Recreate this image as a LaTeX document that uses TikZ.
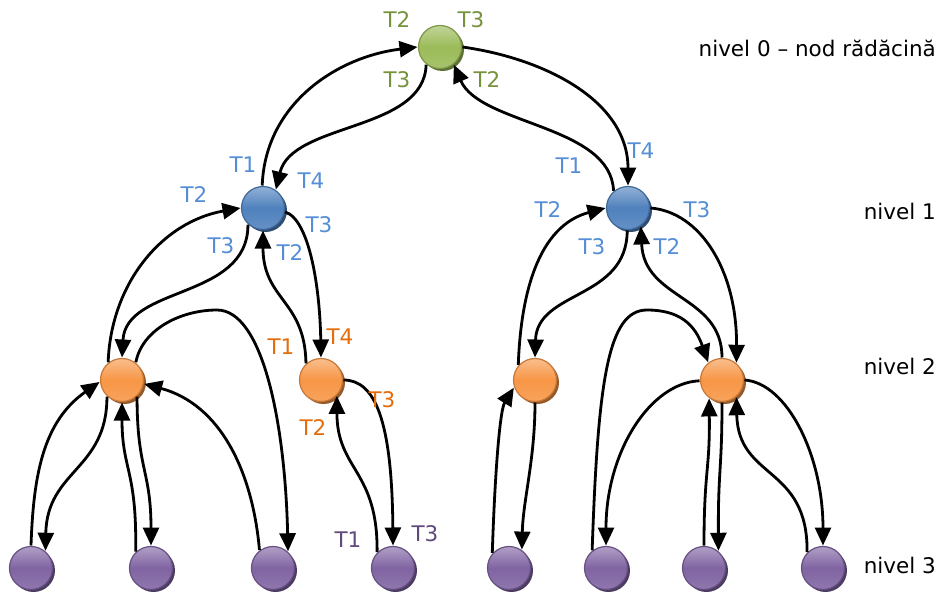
\documentclass[tikz,border=0pt]{standalone}
\usepackage{fontspec}
\setmainfont{DejaVu Sans}
\usepackage{tikz}
\usetikzlibrary{arrows.meta, shadows}

\definecolor{rootgreen}{HTML}{9BBB59}
\definecolor{midblue}{HTML}{4F81BD}
\definecolor{innerorange}{HTML}{F79646}
\definecolor{leafpurple}{HTML}{8064A2}
\definecolor{tgreen}{HTML}{76923C}
\definecolor{tblue}{HTML}{558ED5}
\definecolor{torange}{HTML}{E46C0A}
\definecolor{tpurple}{HTML}{604A7B}

\tikzset{
  ball/.style={circle, minimum size=43pt, inner sep=0pt, outer sep=1pt, line width=1.2pt,
    draw=#1!80!black, top color=#1!62!white, bottom color=#1!88!white, middle color=#1,
    general shadow={fill=#1!60!black, shadow xshift=2.5pt, shadow yshift=-2.5pt}},
  hop/.style={line width=2.8pt, -{Triangle[length=18pt,width=16pt]}},
  tnum/.style={text=#1, font=\fontsize{21.5}{25}\selectfont, inner sep=0pt},
  tierlabel/.style={font=\fontsize{21.5}{25}\selectfont, inner sep=0pt, anchor=base east},
}

\begin{document}
\begin{tikzpicture}[x=1pt, y=1pt]
  \useasboundingbox (0,0) rectangle (942,-594);

  % the tree
  \node[ball=rootgreen] (root) at (440,-47) {};
  \node[ball=midblue] (n1a) at (263,-208) {};
  \node[ball=midblue] (n1b) at (628,-208) {};
  \node[ball=innerorange] (n2a) at (122,-380) {};
  \node[ball=innerorange] (n2b) at (321,-380) {};
  \node[ball=innerorange] (n2c) at (535,-380) {};
  \node[ball=innerorange] (n2d) at (722,-380) {};
  \foreach \x [count=\i] in {31,151,273,393,509,606,704,823}
    \node[ball=leafpurple] (n3\i) at (\x,-568) {};

  % root <-> level 1
  \draw[hop] (n1a.92) to[out=88, in=187] (root.west);
  \draw[hop] (root.232) .. controls (424,-132) and (292,-122) .. (n1a.55);
  \draw[hop] (root.east) to[out=-8, in=90] (n1b.north);
  \draw[hop] (n1b.130) .. controls (611,-125) and (480,-125) .. (root.-52);

  % left subtree
  \draw[hop] (n2a.128) to[out=88, in=190] (n1a.west);
  \draw[hop] (n1a.228) .. controls (248,-300) and (126,-285) .. (n2a.north);
  \draw[hop] (n1a.-10) .. controls (310,-220) and (320,-290) .. (n2b.north);
  \draw[hop] (n2b.132) .. controls (305,-300) and (263,-300) .. (n1a.south);

  \draw[hop] (n31.north) to[out=88, in=215] (n2a.185);
  \draw[hop] (n2a.228) .. controls (107,-470) and (47,-470) .. (n31.50);
  \draw[hop] (n32.133) .. controls (137,-470) and (122,-470) .. (n2a.south);
  \draw[hop] (n2a.-48) .. controls (137,-470) and (151,-470) .. (n32.north);
  \draw[hop] (n2a.52) .. controls (142,-330) and (180,-310) .. (217,-310)
    .. controls (262,-310) and (285,-420) .. (n33.48);
  \draw[hop] (n33.127) to[out=95, in=-15] (n2a.-10);

  \draw[hop] (n2b.east) .. controls (375,-380) and (392,-420) .. (n34.north);
  \draw[hop] (n34.135) .. controls (378,-470) and (337,-470) .. (n2b.-45);

  % right subtree
  \draw[hop] (n2c.138) to[out=88, in=195] (n1b.west);
  \draw[hop] (n1b.-92) .. controls (627,-300) and (537,-290) .. (n2c.north);
  \draw[hop] (n2d.north) .. controls (722,-295) and (644,-300) .. (n1b.-55);
  \draw[hop] (n1b.east) .. controls (700,-212) and (737,-270) .. (n2d.50);

  \draw[hop] (n35.138) .. controls (495,-470) and (500,-410) .. (n2c.200);
  \draw[hop] (n2c.south) .. controls (535,-460) and (523,-500) .. (n35.55);

  \draw[hop] (n36.128) .. controls (598,-380) and (608,-310) .. (647,-310)
    .. controls (680,-310) and (695,-325) .. (n2d.128);
  \draw[hop] (n2d.182) .. controls (650,-383) and (606,-452) .. (n36.north);
  \draw[hop] (n37.north) .. controls (704,-470) and (710,-470) .. (n2d.235);
  \draw[hop] (n2d.south) .. controls (722,-470) and (718,-470) .. (n37.50);
  \draw[hop] (n38.135) .. controls (808,-465) and (738,-480) .. (n2d.-50);
  \draw[hop] (n2d.east) .. controls (787,-383) and (823,-455) .. (n38.north);

  % traversal numbers
  \node[tnum=tgreen] (t0a) at (397,-20) {T2};
  \node[tnum=tgreen] (t0b) at (471,-20) {T3};
  \node[tnum=tgreen] (t0c) at (397,-80) {T3};
  \node[tnum=tgreen] (t0d) at (487,-80) {T2};

  \node[tnum=tblue] (t1a) at (243,-165) {T1};
  \node[tnum=tblue] (t1b) at (311,-181) {T4};
  \node[tnum=tblue] (t1c) at (194,-195) {T2};
  \node[tnum=tblue] (t1d) at (319,-225) {T3};
  \node[tnum=tblue] (t1e) at (221,-246) {T3};
  \node[tnum=tblue] (t1f) at (290,-253) {T2};

  \node[tnum=tblue] (t1g) at (569,-166) {T1};
  \node[tnum=tblue] (t1h) at (641,-151) {T4};
  \node[tnum=tblue] (t1i) at (548,-210) {T2};
  \node[tnum=tblue] (t1j) at (697,-210) {T3};
  \node[tnum=tblue] (t1k) at (592,-247) {T3};
  \node[tnum=tblue] (t1l) at (667,-247) {T2};

  \node[tnum=torange] (t2a) at (281,-347) {T1};
  \node[tnum=torange] (t2b) at (340,-337) {T4};
  \node[tnum=torange] (t2c) at (382,-400) {T3};
  \node[tnum=torange] (t2d) at (313,-428) {T2};

  \node[tnum=tpurple] (t3a) at (348,-540) {T1};
  \node[tnum=tpurple] (t3b) at (425,-534) {T3};

  % levels
  \node[tierlabel] (lv0) at (936,-57) {nivel 0 – nod rădăcină};
  \node[tierlabel] (lv1) at (936,-219) {nivel 1};
  \node[tierlabel] (lv2) at (936,-374) {nivel 2};
  \node[tierlabel] (lv3) at (936,-573) {nivel 3};
\end{tikzpicture}
\end{document}
